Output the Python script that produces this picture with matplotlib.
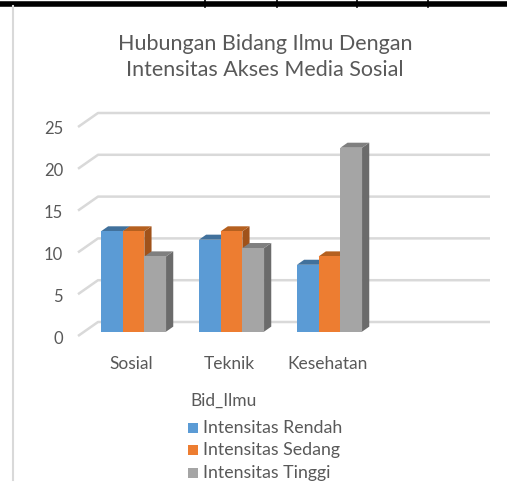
import matplotlib.pyplot as plt
from matplotlib.patches import Polygon
from matplotlib.lines import Line2D
import numpy as np

# Data
categories = ['Sosial', 'Teknik', 'Kesehatan']
series_names = ['Intensitas Rendah', 'Intensitas Sedang', 'Intensitas Tinggi']
rendah = [12, 11, 8]
sedang = [12, 12, 9]
tinggi = [9, 10, 22]
yticks = [0, 5, 10, 15, 20, 25]

series = [rendah, sedang, tinggi]
front_colors = ['#5B9BD5', '#ED7D31', '#A5A5A5']
top_colors = ['#41719C', '#B5601F', '#7F7F7F']
side_colors = ['#3A6A95', '#A0521A', '#6B6B6B']

W, H = 507, 483
fig = plt.figure(figsize=(W / 100, H / 100), dpi=100)
ax = fig.add_axes([0, 0, 1, 1])
ax.axis('off')

# pixel scale of the data units
px_x = 98.0      # pixels per category
px_y = 8.36      # pixels per value unit
x0_px, y0_px = 133.5, H - 322   # category 0 / value 0 (back wall)
ax.set_xlim(-x0_px / px_x, (W - x0_px) / px_x)
ax.set_ylim(-y0_px / px_y, (H - y0_px) / px_y)

# depth vector (back -> front), in data units
ddx, ddy = -20 / px_x, -14 / px_y
wall_l, wall_r = (98 - x0_px) / px_x, (490 - x0_px) / px_x
grid_c = '#D9D9D9'
txt_c = '#595959'
font = 'Lato'

# gridlines: back wall line + diagonal to front
for v in yticks:
    ax.plot([wall_l + ddx, wall_l, wall_r], [v + ddy, v, v],
            color=grid_c, lw=1.8, solid_capstyle='butt', zorder=1)
    ax.text(wall_l + ddx - 15 / px_x, v + ddy - 2.5 / px_y, str(v), ha='right', va='center',
            fontsize=12, color=txt_c, family=font)

# bars
bw = 21.7 / px_x
front_f = 0.69   # fraction of depth where the front face sits
back_f = 0.33
fx, fy = ddx * front_f, ddy * front_f
sx, sy = ddx * (back_f - front_f), ddy * (back_f - front_f)   # front -> back offset
for i, cat in enumerate(categories):
    left0 = i - 1.5 * bw
    for k, vals in enumerate(series):
        v = vals[i]
        xl = left0 + k * bw
        xr = xl + bw
        yb = fy
        yt = v + fy
        front = [(xl, yb), (xr, yb), (xr, yt), (xl, yt)]
        top = [(xl, yt), (xr, yt), (xr + sx, yt + sy), (xl + sx, yt + sy)]
        side = [(xr, yb), (xr + sx, yb + sy), (xr + sx, yt + sy), (xr, yt)]
        z = 2 + k * 0.1
        ax.add_patch(Polygon(side, closed=True, fc=side_colors[k], ec='none', zorder=z))
        ax.add_patch(Polygon(top, closed=True, fc=top_colors[k], ec='none', zorder=z))
        ax.add_patch(Polygon(front, closed=True, fc=front_colors[k], ec='none', zorder=z + 0.05))
    ax.text(i - 0.02, ddy - 28 / px_y, cat, ha='center', va='center',
            fontsize=12.5, color=txt_c, family=font)

# title
fig.text(265 / W, 1 - 57 / H, 'Hubungan Bidang Ilmu Dengan\nIntensitas Akses Media Sosial',
         ha='center', va='center', fontsize=15.5, color=txt_c, family=font, linespacing=1.35)

# legend
fig.text(190 / W, 1 - 401 / H, 'Bid_Ilmu', ha='left', va='center', fontsize=12.5,
         color=txt_c, family=font)
for k, name in enumerate(series_names):
    yy = 1 - (428 + 22.5 * k) / H
    fig.patches.append(plt.Rectangle((188 / W, yy - 4.5 / H), 10 / W, 10 / H,
                                     transform=fig.transFigure, fc=front_colors[k], ec='none'))
    fig.text(203 / W, yy, name, ha='left', va='center', fontsize=12.8, color=txt_c, family=font)

# page border bits
fig.add_artist(Line2D([0, 1], [1 - 3.5 / H] * 2, transform=fig.transFigure, color='black', lw=4))
for xp in [205, 277, 357, 428]:
    fig.add_artist(Line2D([xp / W] * 2, [1 - 0 / H, 1 - 7 / H], transform=fig.transFigure,
                          color='black', lw=1.2))
fig.add_artist(Line2D([12.5 / W] * 2, [1 - 6 / H, 1 - 480 / H], transform=fig.transFigure,
                      color='#D9D9D9', lw=1.5))

fig.savefig('out.png', dpi=100)
